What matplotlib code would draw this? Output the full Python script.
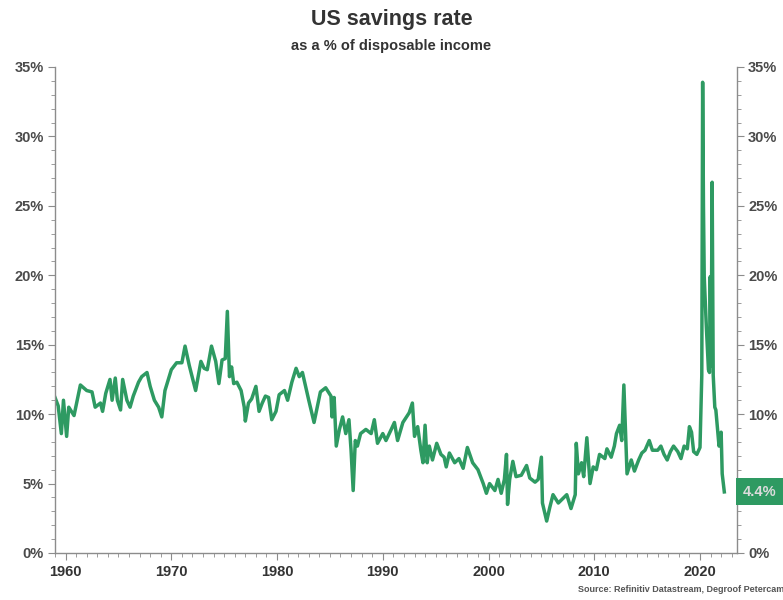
import matplotlib.pyplot as plt
import matplotlib.transforms as mtransforms
from matplotlib.ticker import MultipleLocator, FuncFormatter

# US personal savings rate, % of disposable income
dates = [
    1959.0, 1959.3, 1959.6, 1959.8, 1960.1, 1960.3, 1960.8, 1961.4, 1962.0, 1962.5,
    1962.8, 1963.3, 1963.5, 1963.8, 1964.2, 1964.4, 1964.7, 1964.9, 1965.2, 1965.4,
    1965.8, 1966.1, 1966.4, 1966.9, 1967.2, 1967.7, 1968.0, 1968.4, 1968.8, 1969.1,
    1969.4, 1970.0, 1970.5, 1971.0, 1971.3, 1971.7, 1972.3, 1972.8, 1973.1, 1973.4,
    1973.8, 1974.2, 1974.5, 1974.8, 1975.1, 1975.3, 1975.5, 1975.7, 1975.9, 1976.2,
    1976.6, 1976.9, 1977.0, 1977.3, 1977.6, 1978.0, 1978.3, 1978.6, 1978.9, 1979.2,
    1979.5, 1979.9, 1980.2, 1980.7, 1981.0, 1981.4, 1981.8, 1982.1, 1982.4, 1982.7,
    1983.0, 1983.5, 1983.8, 1984.1, 1984.6, 1985.1, 1985.2, 1985.4, 1985.6, 1985.9,
    1986.2, 1986.5, 1986.8, 1987.0, 1987.2, 1987.4, 1987.6, 1987.9, 1988.4, 1988.9,
    1989.2, 1989.5, 1990.0, 1990.3, 1990.8, 1991.1, 1991.4, 1991.9, 1992.5, 1992.8,
    1993.0, 1993.3, 1993.6, 1993.8, 1994.0, 1994.2, 1994.4, 1994.7, 1995.1, 1995.5,
    1995.8, 1996.0, 1996.3, 1996.8, 1997.2, 1997.6, 1998.0, 1998.5, 1999.0, 1999.5,
    1999.8, 2000.1, 2000.6, 2000.9, 2001.2, 2001.5, 2001.7, 2001.8, 2002.0, 2002.3,
    2002.6, 2003.1, 2003.6, 2003.9, 2004.4, 2004.7, 2005.0, 2005.1, 2005.5, 2005.8,
    2006.1, 2006.6, 2007.0, 2007.4, 2007.8, 2008.2, 2008.3, 2008.5, 2008.8, 2009.0,
    2009.3, 2009.6, 2009.9, 2010.2, 2010.5, 2011.0, 2011.2, 2011.6, 2011.9, 2012.1,
    2012.4, 2012.6, 2012.8, 2013.0, 2013.1, 2013.5, 2013.8, 2014.2, 2014.5, 2014.8,
    2015.2, 2015.5, 2016.0, 2016.3, 2016.6, 2016.9, 2017.2, 2017.5, 2017.9, 2018.2,
    2018.5, 2018.8, 2019.0, 2019.2, 2019.4, 2019.7, 2020.0, 2020.17, 2020.25, 2020.33,
    2020.4, 2020.6, 2020.8, 2020.9, 2020.97, 2021.05, 2021.15, 2021.25, 2021.4, 2021.5,
    2021.7, 2021.8, 2022.0, 2022.1, 2022.3,
]
rates = [
    11.2, 10.6, 8.6, 11.0, 8.4, 10.5, 9.9, 12.1, 11.7, 11.6,
    10.5, 10.8, 10.2, 11.5, 12.5, 11.0, 12.6, 11.0, 10.3, 12.5,
    11.0, 10.5, 11.3, 12.3, 12.7, 13.0, 12.0, 11.0, 10.5, 9.8,
    11.7, 13.2, 13.7, 13.7, 14.9, 13.5, 11.7, 13.8, 13.3, 13.2,
    14.9, 13.8, 12.2, 13.9, 14.0, 17.4, 12.7, 13.4, 12.2, 12.3,
    11.7, 10.5, 9.5, 10.8, 11.1, 12.0, 10.2, 10.8, 11.3, 11.2,
    9.6, 10.2, 11.4, 11.7, 11.0, 12.3, 13.3, 12.7, 13.0, 12.0,
    11.0, 9.4, 10.5, 11.6, 11.9, 11.3, 9.8, 11.2, 7.7, 8.9,
    9.8, 8.6, 9.6, 7.4, 4.5, 8.1, 7.7, 8.6, 8.9, 8.6,
    9.6, 7.9, 8.6, 8.1, 8.9, 9.4, 8.1, 9.4, 10.1, 10.8,
    8.4, 9.1, 7.4, 6.5, 9.2, 6.5, 7.7, 6.7, 7.9, 7.1,
    6.9, 6.2, 7.2, 6.5, 6.8, 6.1, 7.6, 6.5, 6.0, 5.0,
    4.3, 5.0, 4.5, 5.3, 4.3, 5.3, 7.1, 3.5, 5.3, 6.6,
    5.5, 5.6, 6.3, 5.4, 5.1, 5.3, 6.9, 3.6, 2.3, 3.3,
    4.2, 3.6, 3.9, 4.2, 3.2, 4.2, 7.9, 5.7, 6.5, 5.5,
    8.3, 5.0, 6.2, 6.0, 7.1, 6.8, 7.5, 6.9, 7.7, 8.6,
    9.2, 8.1, 12.1, 7.9, 5.7, 6.7, 5.9, 6.7, 7.2, 7.4,
    8.1, 7.4, 7.4, 7.7, 7.1, 6.7, 7.3, 7.7, 7.3, 6.8,
    7.7, 7.5, 9.1, 8.7, 7.3, 7.1, 7.6, 12.8, 33.9, 24.9,
    19.9, 16.3, 13.2, 13.0, 19.9, 13.5, 26.7, 12.8, 10.5, 10.3,
    8.6, 7.7, 8.7, 5.7, 4.4,
]
decade_ticks = [1960, 1970, 1980, 1990, 2000, 2010, 2020]
title = "US savings rate"
subtitle = "as a % of disposable income"
source = "Source: Refinitiv Datastream, Degroof Petercam"

GREEN = "#2e9a62"
AXIS = "#8c8c8c"

fig = plt.figure(figsize=(7.83, 6.0), dpi=100)
plt.rcParams["font.family"] = ["Liberation Sans", "DejaVu Sans"]
ax = fig.add_axes([55 / 783, 47 / 600, 682 / 783, 486 / 600])

ax.plot(dates, rates, color=GREEN, linewidth=2.5, solid_joinstyle="round")

ax.set_xlim(1959.0, 2023.5)
ax.set_ylim(0, 35)
ax.set_xticks(decade_ticks)
ax.xaxis.set_minor_locator(MultipleLocator(1))
ax.yaxis.set_major_locator(MultipleLocator(5))
ax.yaxis.set_minor_locator(MultipleLocator(1))
ax.yaxis.set_major_formatter(FuncFormatter(lambda v, p: f"{v:.0f}%"))

for side in ["left", "right", "bottom"]:
    ax.spines[side].set_color(AXIS)
    ax.spines[side].set_linewidth(1.0)
ax.spines["top"].set_visible(False)

ax.tick_params(axis="y", which="both", left=True, right=True,
               labelleft=True, labelright=True, direction="out", color=AXIS)
ax.tick_params(axis="y", which="major", length=5, labelsize=10.5,
               labelcolor="#4a4a4a", pad=3)
ax.tick_params(axis="y", which="minor", length=3)
ax.tick_params(axis="x", which="both", direction="out", color=AXIS)
ax.tick_params(axis="x", which="major", length=5, labelsize=10.5,
               labelcolor="#333333", pad=4)
ax.tick_params(axis="x", which="minor", length=3)
for lab in ax.get_xticklabels() + ax.get_yticklabels():
    lab.set_fontweight("bold")
for lab in ax.yaxis.get_ticklabels(which="major"):
    lab.set_fontweight("bold")

# last value tag on the right axis
trans = mtransforms.blended_transform_factory(ax.transAxes, ax.transData)
ax.text(1.008, rates[-1], f"{rates[-1]:.1f}%", transform=trans,
        ha="left", va="center", fontsize=10.5, fontweight="bold",
        color="#dcdcdc", clip_on=False, zorder=5,
        bbox=dict(boxstyle="square,pad=0.45", fc=GREEN, ec="none"))

fig.text(0.5, 0.968, title, ha="center", va="center",
         fontsize=15.5, fontweight="bold", color="#333333")
fig.text(0.5, 0.923, subtitle, ha="center", va="center",
         fontsize=10.5, fontweight="bold", color="#333333")
fig.text(578 / 783, 0.017, source, ha="left", va="center",
         fontsize=6.5, fontweight="bold", color="#555555")

fig.savefig("out.png", dpi=100, facecolor="white")
